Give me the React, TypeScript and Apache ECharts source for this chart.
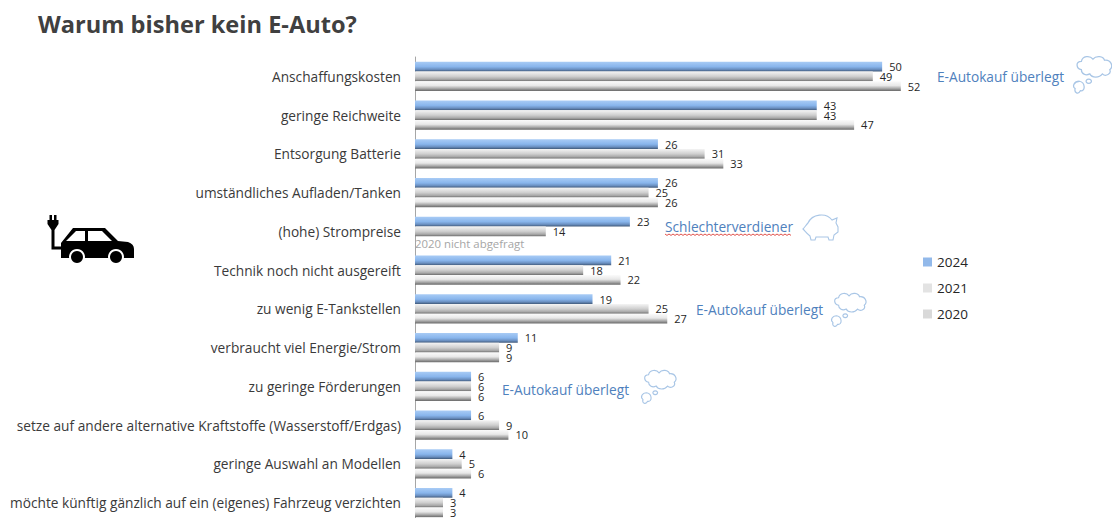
import React, { useEffect, useRef } from "react";
import * as echarts from "echarts";

const categories = [
  "Anschaffungskosten",
  "geringe Reichweite",
  "Entsorgung Batterie",
  "umständliches Aufladen/Tanken",
  "(hohe) Strompreise",
  "Technik noch nicht ausgereift",
  "zu wenig E-Tankstellen",
  "verbraucht viel Energie/Strom",
  "zu geringe Förderungen",
  "setze auf andere alternative Kraftstoffe (Wasserstoff/Erdgas)",
  "geringe Auswahl an Modellen",
  "möchte künftig gänzlich auf ein (eigenes) Fahrzeug verzichten",
];
const values2024 = [50, 43, 26, 26, 23, 21, 19, 11, 6, 6, 4, 4];
const values2021 = [49, 43, 31, 25, 14, 18, 25, 9, 6, 9, 5, 3];
const values2020 = [52, 47, 33, 26, null, 22, 27, 9, 6, 10, 6, 3];

const FONT = "'Open Sans', 'Noto Sans', sans-serif";
const ANNOT = "#4f81bd";
const CLOUD = "#a9c6e6";

const grad = (stops: [number, string][]) =>
  new echarts.graphic.LinearGradient(0, 0, 0, 1, stops.map(([offset, color]) => ({ offset, color })));
const blue = () => grad([[0, "#a8cbf5"], [0.5, "#88b5ec"], [0.78, "#6a8fc0"], [1, "#3f5878"]]);
const light = () => grad([[0, "#f4f4f4"], [0.5, "#cfcfcf"], [0.8, "#a8a8a8"], [1, "#6e6e6e"]]);
const lighter = () => grad([[0, "#fbfbfb"], [0.45, "#e8e8e8"], [0.75, "#a8a8a8"], [1, "#6a6a6a"]]);

const carBody = "M61 243 L73 228 L105 228 L118 241 L128 242 Q134 244 134 249 L134 258 L61 258 Z M66 241 L85 241 L85 231 L76 231 Z M88 231 L88 241 L112 241 L102 231 Z";
const plug = "M49.5 215 L52 215 L52 220 L54 220 L54 215 L56.5 215 L56.5 220 L58.5 220 L58.5 224 L54.5 230 L54.5 246.5 L63 246.5 L63 249.5 L51.5 249.5 L51.5 230 L47.5 224 L47.5 220 L49.5 220 Z";
const cloud = "M8 14 C3 13 2 6 8 6 C9 1 16 0 19 4 C22 0 29 1 30 5 C36 4 39 11 35 14 C37 18 31 21 28 18 C25 22 18 22 16 18 C12 20 8 18 8 14 Z M15 23 a2.5 2 0 1 0 0.01 0 Z M6 25 C1 25 -1 30 2 32 C1 36 5 38 7 34 C12 35 12 26 6 25 Z";
const pig = "M6 12 C10 3 24 1 30 9 L35 7 L34 12 L36 16 L36 21 L32 24 L31 29 L27 29 L26 26 L14 26 L13 29 L9 29 L8 25 C4 22 3 20 1 18 C3 16 4 14 6 12 Z";

const mk = (d: string) => echarts.graphic.extendPath(d, {});
echarts.graphic.registerShape("carBodyP", mk(carBody));
echarts.graphic.registerShape("plugP", mk(plug));
echarts.graphic.registerShape("cloudP", mk(cloud));
echarts.graphic.registerShape("pigP", mk(pig));

const note = (text: string, x: number, y: number) => ({
  type: "text", x, y,
  style: { text, fill: ANNOT, font: `13.7px ${FONT}`, textVerticalAlign: "middle" },
});
const cloudAt = (x: number, y: number, s: number) => ({
  type: "cloudP", x, y, scaleX: s, scaleY: s,
  style: { fill: "#fff", stroke: CLOUD, lineWidth: 1.2 },
});

const wave: number[][] = [];
for (let i = 0; i <= 63; i++) wave.push([665 + i * 2, 234 + (i % 2 ? 1.4 : 0)]);

export default function App() {
  const ref = useRef<HTMLDivElement>(null);
  useEffect(() => {
    document.body.style.margin = "0";
    const chart = echarts.init(ref.current!, null, { renderer: "svg" });
    const label = {
      show: true, position: "right" as const, distance: 7, color: "#262626",
      fontFamily: FONT, fontSize: 11,
    };
    const series = [
      { name: "2024", data: values2024, color: blue() },
      { name: "2021", data: values2021, color: light() },
      { name: "2020", data: values2020, color: lighter() },
    ].map((s) => ({
      name: s.name, type: "bar" as const, data: s.data, barGap: "0%", barCategoryGap: "25%",
      itemStyle: { color: s.color }, label,
    }));
    chart.setOption({
      animation: false,
      title: {
        text: "Warum bisher kein E-Auto?", left: 38, top: 12, padding: 0,
        textStyle: { fontFamily: FONT, fontSize: 23.6, fontWeight: "bold", color: "#404040" },
      },
      legend: {
        orient: "vertical", left: 923, top: 255, padding: 0, itemWidth: 9, itemHeight: 9, itemGap: 12,
        icon: "rect",
        textStyle: { fontFamily: FONT, fontSize: 13.5, color: "#262626" },
        data: [
          { name: "2024", itemStyle: { color: "#92b9ea" } },
          { name: "2021", itemStyle: { color: "#e3e3e3" } },
          { name: "2020", itemStyle: { color: "#d9d9d9" } },
        ],
      },
      grid: { left: 415, top: 57, width: 654, height: 465, outerBoundsMode: "none" },
      xAxis: { type: "value", min: 0, max: 70, show: false },
      yAxis: {
        type: "category", inverse: true, data: categories,
        axisTick: { show: false },
        axisLine: { lineStyle: { color: "#a6a6a6", width: 1 } },
        axisLabel: { fontFamily: FONT, fontSize: 13.7, color: "#3a3a3a", margin: 14, interval: 0, padding: [0, 0, 2, 0] },
      },
      series,
      graphic: [
        { type: "carBodyP", x: 0, y: 0, style: { fill: "#000" } },
        { type: "plugP", x: 0, y: 0, style: { fill: "#000" } },
        { type: "circle", shape: { cx: 77, cy: 257, r: 8 }, style: { fill: "#fff" } },
        { type: "circle", shape: { cx: 116, cy: 257, r: 8 }, style: { fill: "#fff" } },
        { type: "circle", shape: { cx: 77, cy: 257, r: 6 }, style: { fill: "#000" } },
        { type: "circle", shape: { cx: 116, cy: 257, r: 6 }, style: { fill: "#000" } },
        note("E-Autokauf überlegt", 937, 76),
        note("Schlechterverdiener", 665, 226),
        note("E-Autokauf überlegt", 696, 309),
        note("E-Autokauf überlegt", 502, 389),
        cloudAt(1073, 55, 1.05),
        cloudAt(831, 292, 0.95),
        cloudAt(641, 369, 0.95),
        { type: "pigP", x: 802, y: 211, style: { fill: "#fff", stroke: CLOUD, lineWidth: 1.1 } },
        { type: "polyline", shape: { points: wave }, style: { stroke: "#e0504a", lineWidth: 1, fill: "none" } },
        {
          type: "text", x: 415, y: 243,
          style: { text: "2020 nicht abgefragt", fill: "#a6a6a6", font: `11.4px ${FONT}`, textVerticalAlign: "middle" },
        },
      ],
    });
    return () => chart.dispose();
  }, []);
  return <div ref={ref} style={{ width: 1112, height: 518 }} />;
}
